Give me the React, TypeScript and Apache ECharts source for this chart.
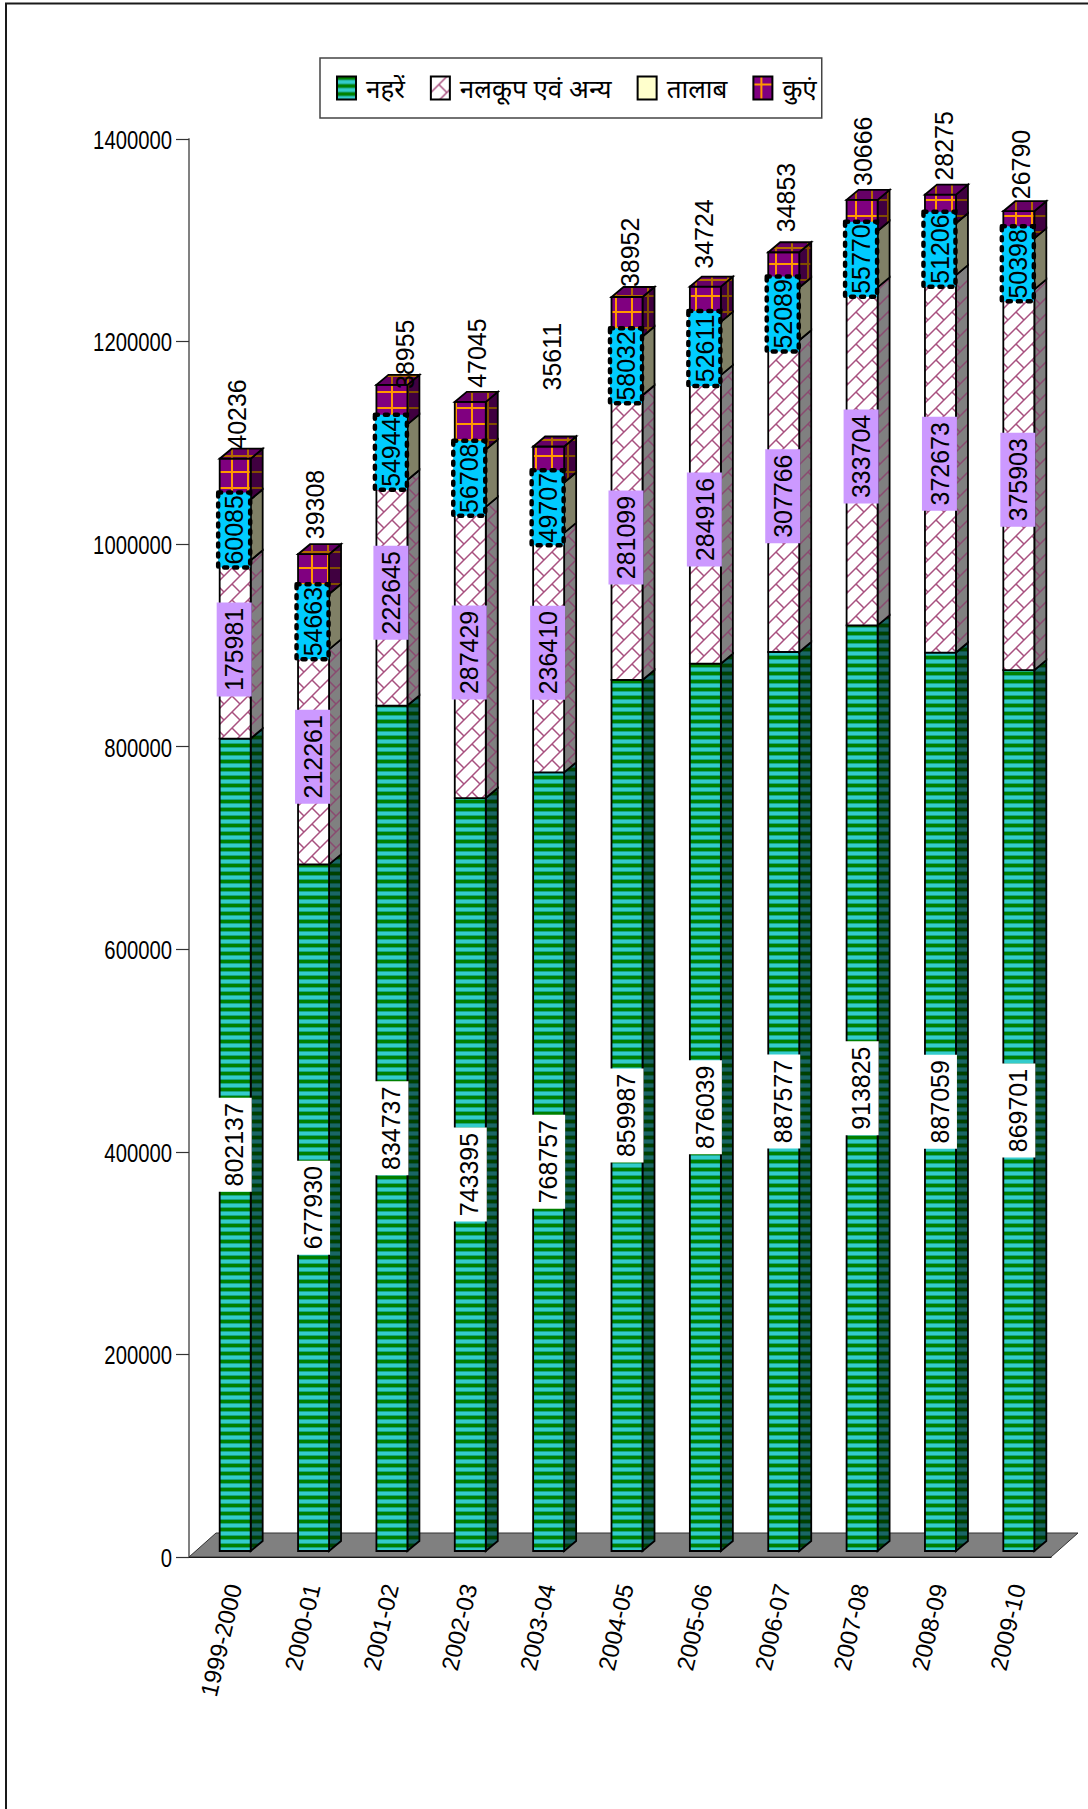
import React, { useEffect, useRef } from "react";
import * as echarts from "echarts";

// Irrigated area by source, per year
const years = ["1999-2000", "2000-01", "2001-02", "2002-03", "2003-04", "2004-05", "2005-06", "2006-07", "2007-08", "2008-09", "2009-10"];
const canals = [802137, 677930, 834737, 743395, 768757, 859987, 876039, 887577, 913825, 887059, 869701];
const tubewells = [175981, 212261, 222645, 287429, 236410, 281099, 284916, 307766, 333704, 372673, 375903];
const ponds = [60085, 54663, 54944, 56708, 49707, 58032, 52611, 52089, 55770, 51206, 50398];
const wells = [40236, 39308, 38955, 47045, 35611, 38952, 34724, 34853, 30666, 28275, 26790];
const seriesNames = ["नहरें", "नलकूप एवं अन्य", "तालाब", "कुएं"];
const yTickValues = [0, 200000, 400000, 600000, 800000, 1000000, 1200000, 1400000];

// Hand-placed offsets of the labels above each column
const topLabelNudge = [[2, 0], [1.5, -5], [13, 14], [7, -4], [3, -46], [3, 0], [-1.5, -8], [2, -10], [1, -4], [3, -4], [2, -2]];

const BAR_W = 31;
const DEPTH_X = 12;
const DEPTH_Y = 10;
const FRONT_X = 7;
const FRONT_Y = 6;
const FONT = '"Liberation Sans", Arial, sans-serif';

function tile(w: number, h: number, draw: (c: CanvasRenderingContext2D) => void) {
  const canvas = document.createElement("canvas");
  canvas.width = w;
  canvas.height = h;
  draw(canvas.getContext("2d")!);
  return canvas;
}

function stripeTile(dark: string, mid: string, light: string) {
  return tile(8, 8, (c) => {
    const rows = [dark, dark, dark, mid, light, light, light, mid];
    rows.forEach((col, i) => {
      c.fillStyle = col;
      c.fillRect(0, i, 8, 1);
    });
  });
}

function brickTile(bg: string, line: string) {
  return tile(16, 16, (c) => {
    c.fillStyle = bg;
    c.fillRect(0, 0, 16, 16);
    c.strokeStyle = line;
    c.lineWidth = 1.5;
    c.beginPath();
    c.moveTo(-2, 18);
    c.lineTo(18, -2);
    c.moveTo(-2, 2);
    c.lineTo(2, -2);
    c.moveTo(14, 18);
    c.lineTo(18, 14);
    c.moveTo(8, 8);
    c.lineTo(16, 16);
    c.stroke();
  });
}

function gridTile(bg: string, line: string) {
  return tile(16, 16, (c) => {
    c.fillStyle = bg;
    c.fillRect(0, 0, 16, 16);
    c.fillStyle = line;
    c.fillRect(7, 0, 2, 16);
    c.fillRect(0, 7, 16, 2);
  });
}

export default function App() {
  const ref = useRef<HTMLDivElement>(null);

  useEffect(() => {
    const chart = echarts.init(ref.current!, undefined, { renderer: "svg" });

    const canalFront = { image: stripeTile("#008000", "#1aa680", "#33cccc"), repeat: "repeat" };
    const canalSide = { image: stripeTile("#004000", "#0d5340", "#1a6666"), repeat: "repeat" };
    const brickFront = { image: brickTile("#ffffff", "#a8507f"), repeat: "repeat" };
    const brickSide = { image: brickTile("#808080", "#8a4a70"), repeat: "repeat" };
    const wellFrontTile = gridTile("#800080", "#ff9900");
    const wellSideTile = gridTile("#400040", "#804d00");
    const wellTopTile = gridTile("#660066", "#b36b00");

    const stacks = [canals, tubewells, ponds, wells];
    const faces = [
      { front: () => canalFront, side: () => canalSide },
      { front: () => brickFront, side: () => brickSide },
      { front: () => "#ffffcc", side: () => "#808066" },
      {
        front: (x: number, y: number) => ({ image: wellFrontTile, repeat: "repeat", x: x + 4, y: y + 6 }),
        side: (x: number, y: number) => ({ image: wellSideTile, repeat: "repeat", x, y: y + 6 }),
      },
    ];
    const outline = { stroke: "#000000", lineWidth: 1.8, lineJoin: "miter" };

    const columnSeries = stacks.map((values, s) => ({
      type: "custom",
      name: seriesNames[s],
      z: 3,
      clip: false,
      encode: { x: 0, y: 2 },
      data: values.map((v, i) => {
        let base = 0;
        for (let k = 0; k < s; k++) base += stacks[k][i];
        return [i, base, base + v];
      }),
      renderItem: (_p: any, api: any) => {
        const [cx, yBase] = api.coord([api.value(0), api.value(1)]);
        const [, yTop] = api.coord([api.value(0), api.value(2)]);
        const l = cx + FRONT_X - BAR_W / 2;
        const r = l + BAR_W;
        const b = yBase - FRONT_Y;
        const t = yTop - FRONT_Y;
        const children: any[] = [
          {
            type: "polygon",
            shape: { points: [[r, b], [r + DEPTH_X, b - DEPTH_Y], [r + DEPTH_X, t - DEPTH_Y], [r, t]] },
            style: { fill: faces[s].side(r, t), ...outline },
          },
          {
            type: "polygon",
            shape: { points: [[l, b], [r, b], [r, t], [l, t]] },
            style: { fill: faces[s].front(l, t), ...outline },
          },
        ];
        if (s === stacks.length - 1) {
          children.push({
            type: "polygon",
            shape: { points: [[l, t], [r, t], [r + DEPTH_X, t - DEPTH_Y], [l + DEPTH_X, t - DEPTH_Y]] },
            style: { fill: { image: wellTopTile, repeat: "repeat", x: l + 4, y: t - 6 }, ...outline },
          });
        }
        return { type: "group", children };
      },
    }));

    const floorSeries = {
      type: "custom",
      name: "floor",
      z: 1,
      clip: false,
      silent: true,
      data: [[0, 0]],
      encode: { x: 0, y: 1 },
      renderItem: (params: any) => {
        const g = params.coordSys;
        const y0 = g.y + g.height;
        const dx = 27;
        const dy = 24;
        return {
          type: "polygon",
          shape: { points: [[g.x, y0], [g.x + dx, y0 - dy], [g.x + g.width + dx, y0 - dy], [g.x + g.width, y0]] },
          style: { fill: "#808080", stroke: "#333333", lineWidth: 1 },
        };
      },
    };

    // Value-axis labels are condensed, which the axis's own labels cannot do
    const yLabelSeries = {
      type: "custom",
      name: "yLabels",
      z: 5,
      clip: false,
      silent: true,
      encode: { x: 0, y: 1 },
      data: yTickValues.map((v) => [0, v]),
      renderItem: (params: any, api: any) => {
        const [, y] = api.coord([0, api.value(1)]);
        return {
          type: "text",
          x: params.coordSys.x - 17,
          y: y + 1,
          scaleX: 0.78,
          style: {
            text: String(api.value(1)),
            fontFamily: FONT,
            fontSize: 26,
            fill: "#000000",
            align: "right",
            verticalAlign: "middle",
          },
        };
      },
    };

    // Boxed labels: white, lilac, dotted blue; the last stack gets a plain label above the column
    const boxStyles = [
      { fill: "#ffffff", h: 94, w: 35 },
      { fill: "#cc99ff", h: 94, w: 35 },
      { fill: "#00ccff", h: 75, w: 32, stroke: "#000000", lineWidth: 4.5, lineDash: [3, 7], lineCap: "round" },
    ];
    const labelRows: number[][] = [];
    stacks.forEach((values, s) =>
      values.forEach((v, i) => {
        let base = 0;
        for (let k = 0; k < s; k++) base += stacks[k][i];
        labelRows.push([i, s === 3 ? base + v : base + v / 2, v, s]);
      })
    );
    const labelSeries = {
      type: "custom",
      name: "labels",
      z: 6,
      clip: false,
      encode: { x: 0, y: 1 },
      data: labelRows,
      renderItem: (_p: any, api: any) => {
        const i = api.value(0);
        const s = api.value(3);
        const text = String(api.value(2));
        const [cx, y] = api.coord([i, api.value(1)]);
        const x = cx + FRONT_X;
        const font = { fontFamily: FONT, fontSize: 26, fill: "#000000" };
        if (s === 3) {
          const [nx, ny] = topLabelNudge[i];
          return {
            type: "text",
            x: x + nx,
            y: y - FRONT_Y - DEPTH_Y + ny,
            rotation: Math.PI / 2,
            scaleX: 0.96,
            style: { text, ...font, align: "left", verticalAlign: "middle" },
          };
        }
        const { h, w, ...box } = boxStyles[s] as any;
        const yc = y - FRONT_Y;
        return {
          type: "group",
          children: [
            { type: "rect", shape: { x: x - 1 - w / 2, y: yc - h / 2, width: w, height: h }, style: box },
            {
              type: "text",
              x: x - 1,
              y: yc,
              rotation: Math.PI / 2,
              scaleX: 0.96,
              style: { text, ...font, align: "center", verticalAlign: "middle" },
            },
          ],
        };
      },
    };

    const legendFill = [canalFront, brickFront, "#ffffcc", { image: wellFrontTile, repeat: "repeat" }];

    chart.setOption({
      animation: false,
      backgroundColor: "#ffffff",
      textStyle: { fontFamily: FONT },
      legend: {
        left: 320,
        top: 58,
        orient: "horizontal",
        selectedMode: false,
        backgroundColor: "#ffffff",
        borderColor: "#444444",
        borderWidth: 1.5,
        padding: [17, 5, 17, 16],
        itemWidth: 19,
        itemHeight: 23,
        itemGap: 25,
        textStyle: {
          fontFamily: '"Noto Sans", "Liberation Sans", sans-serif',
          fontSize: 26,
          color: "#000000",
          padding: [0, 0, 0, 5],
        },
        data: seriesNames.map((name, i) => ({
          name,
          icon: "rect",
          itemStyle: { color: legendFill[i], borderColor: "#000000", borderWidth: 2 },
        })),
      },
      graphic: [
        { type: "line", shape: { x1: 5, y1: 3.5, x2: 1088, y2: 3.5 }, style: { stroke: "#1a1a1a", lineWidth: 2 } },
        { type: "line", shape: { x1: 6, y1: 3, x2: 6, y2: 1809 }, style: { stroke: "#1a1a1a", lineWidth: 2 } },
      ],
      grid: { left: 189, right: 37, top: 139, bottom: 252 },
      xAxis: {
        type: "category",
        data: years,
        boundaryGap: true,
        axisLine: { lineStyle: { color: "#000000", width: 1.2 } },
        axisTick: { alignWithLabel: false, length: 16, lineStyle: { color: "#444444", width: 1.4 } },
        axisLabel: {
          interval: 0,
          rotate: 77,
          margin: 26,
          verticalAlign: "top",
          lineHeight: 12,
          fontFamily: FONT,
          fontSize: 24,
          color: "#000000",
        },
        splitLine: { show: false },
      },
      yAxis: {
        type: "value",
        min: 0,
        max: 1400000,
        interval: 200000,
        axisLine: { show: true, lineStyle: { color: "#808080", width: 2 } },
        axisTick: { show: true, length: 13, lineStyle: { color: "#333333", width: 1.2 } },
        axisLabel: { show: false },
        splitLine: { show: false },
      },
      series: [floorSeries, ...columnSeries, yLabelSeries, labelSeries],
    });

    return () => chart.dispose();
  }, []);

  return <div ref={ref} style={{ position: "absolute", left: 0, top: 0, width: 1088, height: 1809 }} />;
}
